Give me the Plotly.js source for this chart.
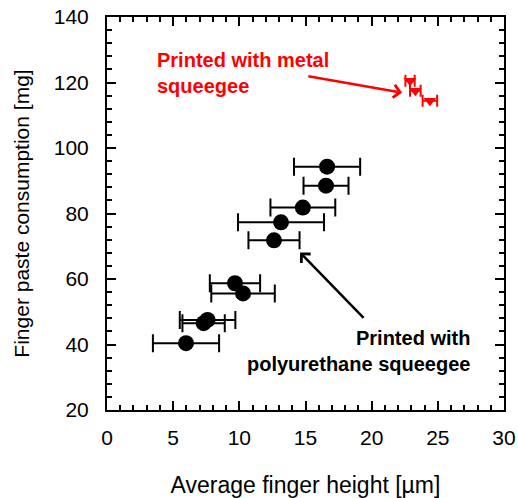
<!DOCTYPE html>
<html>
<head>
<meta charset="utf-8">
<script src="https://cdn.plot.ly/plotly-3.0.1.min.js"></script>
<style>html,body{margin:0;padding:0;background:#fff;}#chart{width:518px;height:498px;}</style>
</head>
<body>
<div id="chart"></div>
<script>
// Polyurethane squeegee (black circles)
var puHeight = [5.97, 7.6, 7.3, 9.67, 10.28, 12.62, 13.15, 14.8, 16.55, 16.63];
var puConsumption = [40.4, 47.5, 46.5, 58.7, 55.6, 71.8, 77.3, 81.8, 88.5, 94.3];
var puHeightErr = [2.5, 2.1, 1.6, 1.9, 2.4, 1.93, 3.25, 2.45, 1.7, 2.5];
// Metal squeegee (red triangles)
var metalHeight = [22.9, 23.3, 24.4];
var metalConsumption = [120.5, 117.5, 114.4];
var metalHeightErr = [0.35, 0.4, 0.55];

var xTitle = 'Average finger height [µm]';
var yTitle = 'Finger paste consumption [mg]';

var traces = [
  {
    x: puHeight, y: puConsumption, type: 'scatter', mode: 'markers',
    marker: {symbol: 'circle', size: 16, color: '#000'},
    error_x: {type: 'data', array: puHeightErr, visible: true, color: '#000', thickness: 2, width: 9},
    showlegend: false, hoverinfo: 'skip'
  },
  {
    x: metalHeight, y: metalConsumption, type: 'scatter', mode: 'markers',
    marker: {symbol: 'triangle-down', size: 11, color: '#ff0000'},
    error_x: {type: 'data', array: metalHeightErr, visible: true, color: '#ff0000', thickness: 2, width: 6},
    showlegend: false, hoverinfo: 'skip'
  }
];

var fontFam = '"Liberation Sans", Arial, sans-serif';

var layout = {
  width: 518, height: 498,
  margin: {l: 107, r: 14, t: 17, b: 88},
  paper_bgcolor: '#fff', plot_bgcolor: '#fff',
  font: {family: fontFam, color: '#000'},
  xaxis: {
    range: [0, 30], dtick: 5, tick0: 0,
    showgrid: false, zeroline: false,
    showline: true, linecolor: '#000', linewidth: 2, mirror: 'ticks',
    ticks: 'inside', ticklen: 9, tickwidth: 2, tickcolor: '#000',
    minor: {dtick: 1, ticklen: 5, tickwidth: 2, tickcolor: '#000', ticks: 'inside', showgrid: false},
    tickfont: {size: 21, family: fontFam, color: '#000'},
    ticklabelstandoff: 8,
    title: {text: xTitle, font: {size: 23, family: fontFam, color: '#000'}, standoff: 30}
  },
  yaxis: {
    range: [20, 140], dtick: 20, tick0: 0,
    showgrid: false, zeroline: false,
    showline: true, linecolor: '#000', linewidth: 2, mirror: 'ticks',
    ticks: 'inside', ticklen: 9, tickwidth: 2, tickcolor: '#000',
    minor: {dtick: 4, ticklen: 5, tickwidth: 2, tickcolor: '#000', ticks: 'inside', showgrid: false},
    tickfont: {size: 21, family: fontFam, color: '#000'},
    ticklabelstandoff: 12,
    title: {text: yTitle, font: {size: 21, family: fontFam, color: '#000'}, standoff: 18}
  },
  annotations: [
    {
      x: 3.63, y: 123, xref: 'x', yref: 'y', showarrow: false,
      xanchor: 'left', yanchor: 'middle', align: 'left',
      text: 'Printed with metal<br>squeegee',
      font: {size: 20, family: fontFam, color: '#ff0000', weight: 'bold'}
    },
    {
      x: 22.3, y: 116.9, xref: 'x', yref: 'y',
      ax: 15.1, ay: 122.0, axref: 'x', ayref: 'y',
      showarrow: true, arrowhead: 4, arrowsize: 1, arrowwidth: 2.5, arrowcolor: '#ff0000',
      text: ''
    },
    {
      x: 27.6, y: 38.0, xref: 'x', yref: 'y', showarrow: false,
      xanchor: 'right', yanchor: 'middle', align: 'right',
      text: 'Printed with<br>polyurethane squeegee',
      font: {size: 20, family: fontFam, color: '#000', weight: 'bold'}
    },
    {
      x: 14.59, y: 68.1, xref: 'x', yref: 'y',
      ax: 19.5, ay: 47.7, axref: 'x', ayref: 'y',
      showarrow: true, arrowhead: 4, arrowsize: 1, arrowwidth: 2.5, arrowcolor: '#000',
      text: ''
    }
  ]
};

Plotly.newPlot('chart', traces, layout, {staticPlot: true, displayModeBar: false});
</script>
</body>
</html>
